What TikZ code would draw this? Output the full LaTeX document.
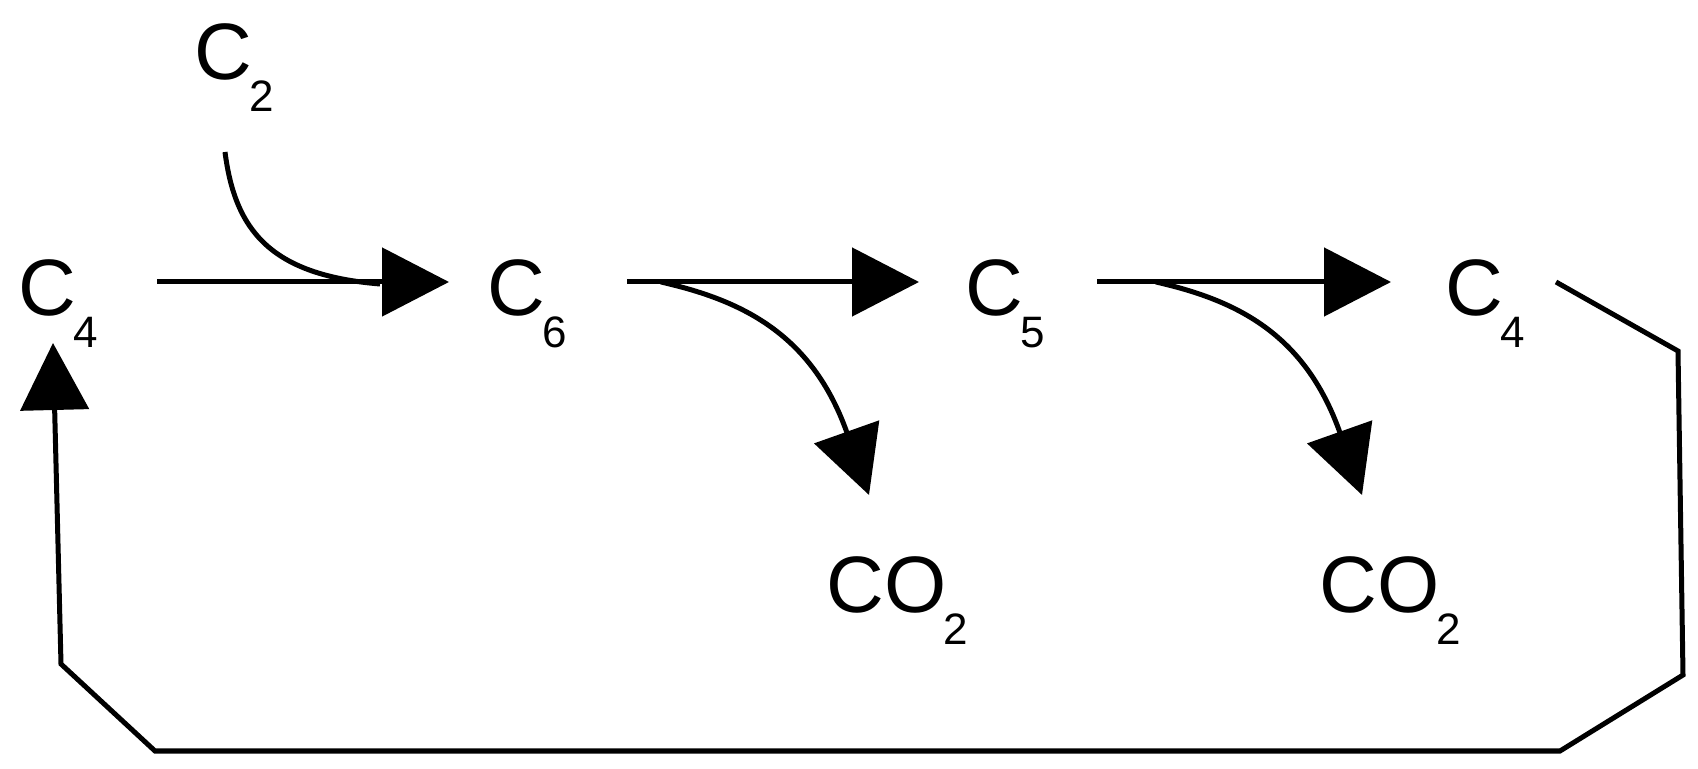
\documentclass[tikz,border=0pt]{standalone}
\usepackage{fontspec}
\setmainfont{Liberation Sans}
\usetikzlibrary{arrows.meta}
\newcommand{\chemlbl}[2]{#1\kern-1.5pt\raisebox{-16pt}{\fontsize{22}{26}\selectfont #2}}

\begin{document}
\begin{tikzpicture}[x=0.5pt, y=-0.5pt,
  mol/.style={inner sep=0pt, anchor=base west, font=\fontsize{40}{48}\selectfont},
  bond/.style={line width=2.5pt},
  flow/.style={bond, -{Triangle[length=33.5pt, width=34pt]}}]
  \useasboundingbox (0,0) rectangle (1698,769);
  \node[mol] (c4a) at (18,316) {\chemlbl{C}{4}};
  \node[mol] (c2) at (194,80) {\chemlbl{C}{2}};
  \node[mol] (c6) at (487,316) {\chemlbl{C}{6}};
  \node[mol] (c5) at (965,316) {\chemlbl{C}{5}};
  \node[mol] (c4b) at (1445,316) {\chemlbl{C}{4}};
  \node[mol] (co2a) at (826,613) {\chemlbl{CO}{2}};
  \node[mol] (co2b) at (1319,613) {\chemlbl{CO}{2}};
  \draw[flow] ([shift={(139,-34)}]c4a.base west) -- ([shift={(-38,-34)}]c6.base west);
  \draw[flow] ([shift={(140,-34)}]c6.base west) -- ([shift={(-46,-34)}]c5.base west);
  \draw[flow] ([shift={(132,-34)}]c5.base west) -- ([shift={(-54,-34)}]c4b.base west);
  \draw[bond] ([shift={(31,72)}]c2.base west) .. controls +(10,78) and +(-110,-9) .. ([shift={(-107,-32)}]c6.base west);
  \draw[flow] ([shift={(174,-34)}]c6.base west) .. controls +(79,18) and +(-57.5,-162.5) .. ([shift={(43,-118)}]co2a.base west);
  \draw[flow] ([shift={(191,-34)}]c5.base west) .. controls +(79,18) and +(-57.5,-162.5) .. ([shift={(43,-118)}]co2b.base west);
  \draw[flow] ([shift={(111,-34)}]c4b.base west) -- ++(122,69) -- ++(5,324) -- ++(-123,76)
    -- ++(-1405,0) -- ++(-94,-87) -- ([shift={(35,27)}]c4a.base west);
\end{tikzpicture}
\end{document}
